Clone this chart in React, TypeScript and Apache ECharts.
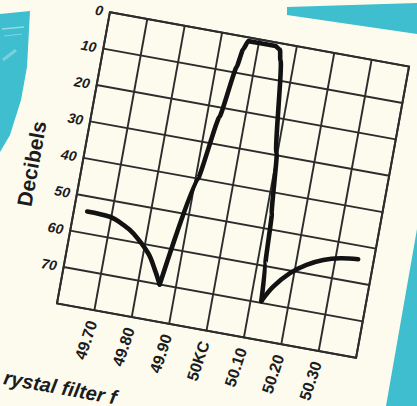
import React, { useEffect, useRef } from "react";
import * as echarts from "echarts";

// ---- data ----
const xTickValues = [49.7, 49.8, 49.9, 50.0, 50.1, 50.2, 50.3];
const xTickLabels = ["49.70", "49.80", "49.90", "50KC", "50.10", "50.20", "50.30"];
const yTickValues = [0, 10, 20, 30, 40, 50, 60, 70];
const yTickLabels = ["0", "10", "20", "30", "40", "50", "60", "70"];

// low-frequency skirt (kc, dB attenuation)
const lowSkirtKc = [49.635, 49.696, 49.735, 49.765, 49.813, 49.838, 49.857];
const lowSkirtDb = [54.1, 54.4, 55.9, 57.7, 62.3, 66.4, 70.0];

// pass band
const passKc = [49.857, 49.906, 49.933, 49.954, 49.962, 49.972, 50.045, 50.058, 50.064, 50.098, 50.114, 50.121, 50.128];
const passDb = [70.0, 40.0, 22.5, 8.4, 3.5, 1.0, 1.0, 1.8, 4.5, 29.5, 45.7, 59.3, 69.5];

// high-frequency skirt
const highSkirtKc = [50.128, 50.152, 50.189, 50.228, 50.269, 50.312, 50.359];
const highSkirtDb = [69.5, 65.1, 60.7, 57.7, 55.6, 54.3, 53.7];

const yAxisTitle = "Decibels";
const caption = "rystal filter f";

const PAPER = "#fcfbee";
const CYAN = "#3ebece";
const INK = "#1c1c1c";
const GRIDC = "#2c2c2c";
const FONT = "'Liberation Sans', Arial, Helvetica, sans-serif";

const pairs = (xs: number[], ys: number[]) => xs.map((x, i) => [x, ys[i]]);

export default function App() {
  const bgRef = useRef<HTMLDivElement>(null);
  const chartRef = useRef<HTMLDivElement>(null);

  useEffect(() => {
    const bg = echarts.init(bgRef.current!, null, { renderer: "svg" });
    bg.setOption({
      animation: false,
      graphic: [
        {
          type: "polygon",
          shape: { points: [[0, 14], [30, 11], [27, 67], [21, 100], [10, 135], [0, 152]] },
          style: { fill: CYAN },
        },
        { type: "line", shape: { x1: 2, y1: 29, x2: 24, y2: 27 }, style: { stroke: "rgba(255,255,255,0.45)", lineWidth: 1.5 } },
        { type: "line", shape: { x1: 4, y1: 36, x2: 22, y2: 34 }, style: { stroke: "rgba(255,255,255,0.35)", lineWidth: 1 } },
        { type: "line", shape: { x1: 3, y1: 60, x2: 16, y2: 50 }, style: { stroke: "rgba(255,255,255,0.3)", lineWidth: 3 } },
        {
          type: "polygon",
          shape: { points: [[287, 7], [417, 3], [417, 34], [287, 15]] },
          style: { fill: CYAN },
        },
        {
          type: "polygon",
          shape: { points: [[417, 229], [417, 406], [386, 406]] },
          style: { fill: CYAN },
        },
      ],
    });

    const chart = echarts.init(chartRef.current!, null, { renderer: "svg" });
    const fmtX = (v: number) => {
      const i = xTickValues.findIndex((t) => Math.abs(t - v) < 1e-6);
      return i >= 0 ? xTickLabels[i] : "";
    };
    const fmtY = (v: number) => {
      const i = yTickValues.findIndex((t) => Math.abs(t - v) < 1e-6);
      return i >= 0 ? yTickLabels[i] : "";
    };
    const lineStyle = { color: "#121212", width: 4.6, cap: "round", join: "round" };
    chart.setOption({
      animation: false,
      backgroundColor: "transparent",
      grid: {
        left: 98,
        top: 102,
        width: 304,
        height: 296,
        show: true,
        borderColor: GRIDC,
        borderWidth: 2,
        backgroundColor: "transparent",
      },
      xAxis: {
        type: "value",
        min: 49.6,
        max: 50.4,
        interval: 0.1,
        axisLine: { show: false },
        axisTick: { show: false },
        splitLine: { show: true, lineStyle: { color: GRIDC, width: 1.9 } },
        axisLabel: {
          rotate: 82,
          margin: 11,
          fontSize: 16,
          fontWeight: "bold",
          fontFamily: FONT,
          color: INK,
          formatter: fmtX,
        },
      },
      yAxis: {
        type: "value",
        inverse: true,
        min: 0,
        max: 80,
        interval: 10,
        axisLine: { show: false },
        axisTick: { show: false },
        splitLine: { show: true, lineStyle: { color: GRIDC, width: 1.9 } },
        axisLabel: {
          margin: 7,
          fontSize: 14,
          fontWeight: "bold",
          fontStyle: "italic",
          fontFamily: FONT,
          color: INK,
          formatter: fmtY,
        },
      },
      series: [
        {
          type: "line",
          data: pairs(lowSkirtKc, lowSkirtDb),
          symbol: "none",
          smooth: 0.35,
          lineStyle,
        },
        {
          type: "line",
          data: pairs(passKc, passDb),
          symbol: "none",
          smooth: 0.2,
          smoothMonotone: "x",
          lineStyle,
        },
        {
          type: "line",
          data: pairs(highSkirtKc, highSkirtDb),
          symbol: "none",
          smooth: 0.35,
          lineStyle,
        },
      ],
      graphic: [
        {
          type: "text",
          x: 48,
          y: 265,
          rotation: Math.PI / 2,
          style: {
            text: yAxisTitle,
            font: `bold 21px ${FONT}`,
            fill: INK,
            align: "center",
            verticalAlign: "middle",
            textAlign: "center",
            textVerticalAlign: "middle",
          },
        },
        {
          type: "text",
          x: 59,
          y: 480,
          style: {
            text: caption,
            font: `italic bold 20px ${FONT}`,
            fill: INK,
            align: "left",
            verticalAlign: "middle",
            textAlign: "left",
            textVerticalAlign: "middle",
          },
        },
      ],
    });

    return () => {
      bg.dispose();
      chart.dispose();
    };
  }, []);

  return (
    <div
      style={{
        position: "fixed",
        left: 0,
        top: 0,
        width: 417,
        height: 406,
        overflow: "hidden",
        background: PAPER,
      }}
    >
      <div ref={bgRef} style={{ position: "absolute", left: 0, top: 0, width: 417, height: 406 }} />
      <div
        ref={chartRef}
        style={{
          position: "absolute",
          left: -17,
          top: -65,
          width: 500,
          height: 500,
          transform: "rotate(10.3deg)",
          transformOrigin: "50% 50%",
        }}
      />
    </div>
  );
}
